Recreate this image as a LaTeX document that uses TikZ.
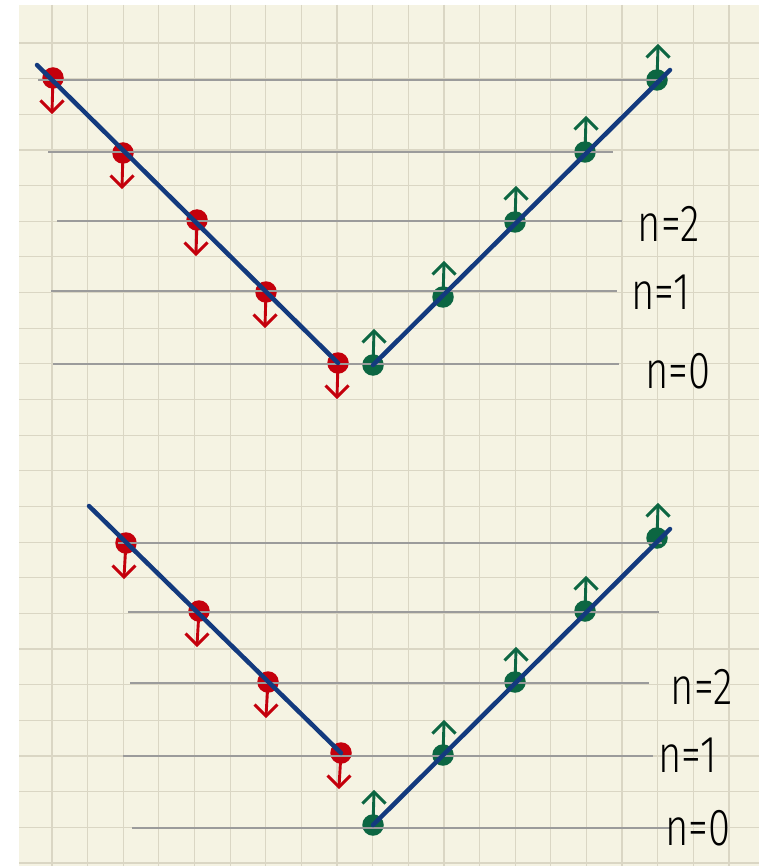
\documentclass[tikz,border=0pt]{standalone}
\usepackage{fontspec}
\newfontfamily\handfont{Fira Sans Light}
\usetikzlibrary{calc}
\definecolor{paper}{HTML}{F5F3E3}
\definecolor{gridc}{HTML}{DAD6C4}
\definecolor{levelc}{HTML}{9B9B9B}
\definecolor{redc}{HTML}{C4000C}
\definecolor{greenc}{HTML}{0C6642}
\definecolor{bluec}{HTML}{133A7E}
\tikzset{
  dotr/.style={circle,fill=redc,inner sep=0pt,minimum size=21.5pt},
  dotg/.style={circle,fill=greenc,inner sep=0pt,minimum size=21.5pt},
  spindown/.style={draw=redc,line width=2.9pt},
  spinup/.style={draw=greenc,line width=2.9pt},
  barbr/.style={draw=redc,line width=2.9pt,line join=miter},
  barbg/.style={draw=greenc,line width=2.9pt,line join=miter},
  level/.style={draw=levelc,line width=1.5pt},
  band/.style={draw=bluec,line width=4.5pt},
  lab/.style={font=\fontsize{40}{44}\selectfont\handfont,inner sep=0pt}
}
\begin{document}
\begin{tikzpicture}[x=1pt,y=-1pt]
\useasboundingbox (0,0) rectangle (759,866);
\fill[white] (0,0) rectangle (759,866);
\fill[paper] (19,5) rectangle (759,866);
% grid
\foreach \k in {0,...,19} \draw[gridc,line width=1.2pt] ({52+35.63*\k},5) -- ({52+35.63*\k},866);
\foreach \k in {0,...,23} \draw[gridc,line width=1.2pt] (19,{43+35.65*\k}) -- (759,{43+35.65*\k});

% ---------- top diagram ----------
\coordinate (r1) at (53,78);
\coordinate (r2) at (123,153);
\coordinate (r3) at (197,220);
\coordinate (r4) at (266,292);
\coordinate (r5) at (338,363);
\coordinate (g1) at (373,365);
\coordinate (g2) at (443,297);
\coordinate (g3) at (515,222);
\coordinate (g4) at (585,152);
\coordinate (g5) at (657,80);
% arrows
\foreach \i in {1,...,5} {
  \draw[spindown] (r\i) -- ++(-1,34) coordinate (rt\i);
  \draw[barbr] ($(rt\i)+(-11.5,-11.5)$) -- (rt\i) -- ($(rt\i)+(11.5,-11.5)$);
  \draw[spinup] (g\i) -- ++(1,-34) coordinate (gt\i);
  \draw[barbg] ($(gt\i)+(-11.5,11.5)$) -- (gt\i) -- ($(gt\i)+(11.5,11.5)$);
}
\foreach \i in {1,...,5} {
  \node[dotr] (R\i) at (r\i) {};
  \node[dotg] (G\i) at (g\i) {};
}
% level lines
\draw[level] (38,80) -- (663,80);
\draw[level] (48,152) -- (613,152);
\draw[level] (57,221) -- (622,221);
\draw[level] (51,291) -- (617,291);
\draw[level] (53,364) -- (619,364);
% bands
\coordinate (tlA) at (37,65);
\coordinate (trB) at (670,70);
\draw[band,line cap=round] (tlA) -- (R5.center);
\draw[band,line cap=round] (G1.center) -- (trB);
% labels
\node[lab] (t2) at (669,224) {\scalebox{1}[1.3]{n=2}};
\node[lab] (t1) at (661,292) {\scalebox{1}[1.3]{n=1}};
\node[lab] (t0) at (678,371) {\scalebox{1}[1.3]{n=0}};

% ---------- bottom diagram ----------
\coordinate (br1) at (126,543);
\coordinate (br2) at (199,611);
\coordinate (br3) at (268,682);
\coordinate (br4) at (341,753);
\coordinate (bg1) at (373,825);
\coordinate (bg2) at (443,755);
\coordinate (bg3) at (515,682);
\coordinate (bg4) at (585,611);
\coordinate (bg5) at (657,538);
\foreach \i in {1,...,4} {
  \draw[spindown] (br\i) -- ++(-2,34) coordinate (brt\i);
  \draw[barbr] ($(brt\i)+(-11.5,-11.5)$) -- (brt\i) -- ($(brt\i)+(11.5,-11.5)$);
}
\foreach \i in {1,...,5} {
  \draw[spinup] (bg\i) -- ++(1,-33) coordinate (bgt\i);
  \draw[barbg] ($(bgt\i)+(-11.5,11.5)$) -- (bgt\i) -- ($(bgt\i)+(11.5,11.5)$);
}
\foreach \i in {1,...,4} \node[dotr] (BR\i) at (br\i) {};
\foreach \i in {1,...,5} \node[dotg] (BG\i) at (bg\i) {};
\draw[level] (118,543) -- (662,543);
\draw[level] (128,612) -- (659,612);
\draw[level] (130,683) -- (649,683);
\draw[level] (123,756) -- (653,756);
\draw[level] (132,828) -- (670,828);
\coordinate (blA) at (89,506);
\coordinate (brB) at (670,529);
\draw[band,line cap=round] (blA) -- (BR4.center);
\draw[band,line cap=round] (BG1.center) -- (brB);
\node[lab] (b2) at (702,687) {\scalebox{1}[1.3]{n=2}};
\node[lab] (b1) at (688,755) {\scalebox{1}[1.3]{n=1}};
\node[lab] (b0) at (698,828) {\scalebox{1}[1.3]{n=0}};
\end{tikzpicture}
\end{document}
